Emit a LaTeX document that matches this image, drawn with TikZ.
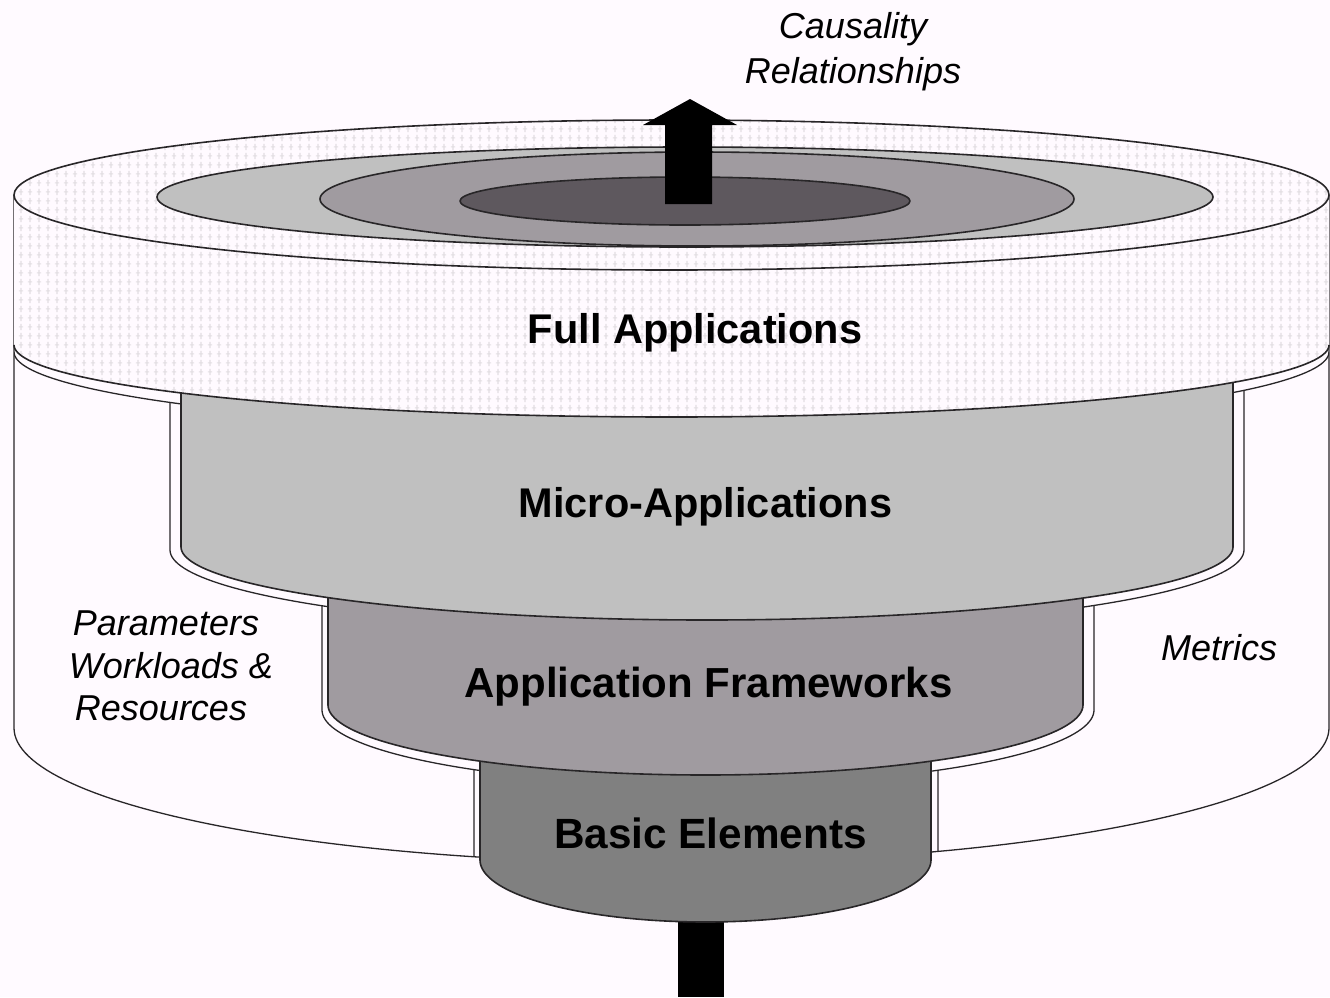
\documentclass[tikz,border=0pt]{standalone}
\usepackage{fontspec}
\setmainfont{Liberation Sans}
\usetikzlibrary{patterns}
\definecolor{bgc}{RGB}{255,250,255}
\definecolor{edge}{RGB}{40,38,40}
\definecolor{microc}{RGB}{192,192,192}
\definecolor{appc}{RGB}{160,155,160}
\definecolor{basicc}{RGB}{128,128,128}
\definecolor{darkc}{RGB}{94,88,94}
\definecolor{dotc}{RGB}{226,222,226}

\pgfdeclarepatternformonly{plusgrid}{\pgfqpoint{0pt}{0pt}}{\pgfqpoint{8.5pt}{9pt}}{\pgfqpoint{8.5pt}{9pt}}{%
  \pgfsetlinewidth{1.1pt}%
  \pgfpathmoveto{\pgfqpoint{4.25pt}{1pt}}\pgfpathlineto{\pgfqpoint{4.25pt}{8pt}}%
  \pgfpathmoveto{\pgfqpoint{2pt}{4.5pt}}\pgfpathlineto{\pgfqpoint{6.5pt}{4.5pt}}%
  \pgfusepath{stroke}}

\tikzset{
  outline/.style={draw=edge, line width=1.6pt, line join=round},
  wall/.style={draw=edge, line width=1.3pt, line join=round},
  boldlabel/.style={anchor=base, text=black, inner sep=0pt},
  sidelabel/.style={anchor=base, text=black, inner sep=0pt, font=\itshape\fontsize{36}{43}\selectfont},
  dotted fill/.style={pattern=plusgrid, pattern color=dotc},
}

\begin{document}
\begin{tikzpicture}[x=1pt,y=-1pt]
\useasboundingbox (0,0) rectangle (1330,997);
\fill[bgc] (0,0) rectangle (1330,997);

% ---- inner wall of the surrounding shell (offset outline), clipped to the shell
\begin{scope}
\clip (14,195) -- (14,728) -- plot[domain=0:180,samples=120,variable=\t] ({671.5-657.5*cos(\t)},{728+135*sin(\t)}) -- (1329,195) -- cycle;
% around Basic Elements
\fill[bgc] (474,705) -- (474,865) -- plot[domain=0:180,samples=90,variable=\t] ({706-232*cos(\t)},{865+66*sin(\t)}) -- (938,705) -- cycle;
\draw[wall] (474,705) -- (474,865) -- plot[domain=0:180,samples=90,variable=\t] ({706-232*cos(\t)},{865+66*sin(\t)}) -- (938,705);
% around Application Frameworks
\fill[bgc] (322,547) -- (322,710) -- plot[domain=0:180,samples=100,variable=\t] ({708-386*cos(\t)},{710+75*sin(\t)}) -- (1094,547) -- cycle;
\draw[wall] (322,547) -- (322,710) -- plot[domain=0:180,samples=100,variable=\t] ({708-386*cos(\t)},{710+75*sin(\t)}) -- (1094,547);
% around Micro-Applications
\fill[bgc] (170,345) -- (170,550) -- plot[domain=0:180,samples=110,variable=\t] ({707-537*cos(\t)},{550+80*sin(\t)}) -- (1244,345) -- cycle;
\draw[wall] (170,345) -- (170,550) -- plot[domain=0:180,samples=110,variable=\t] ({707-537*cos(\t)},{550+80*sin(\t)}) -- (1244,345);
% around Full Applications
\fill[bgc] (14,300) -- (14,352) -- plot[domain=0:180,samples=120,variable=\t] ({671.5-657.5*cos(\t)},{352+78*sin(\t)}) -- (1329,300) -- cycle;
\draw[wall] plot[domain=0:180,samples=120,variable=\t] ({671.5-657.5*cos(\t)},{352+78*sin(\t)});
\end{scope}

% ---- outer shell outline
\draw[wall] (14,195) -- (14,728) -- plot[domain=0:180,samples=120,variable=\t] ({671.5-657.5*cos(\t)},{728+135*sin(\t)}) -- (1329,195);

% ---- stem below
\fill[black] (678,915) rectangle (724,997);

% ---- Basic Elements
\fill[basicc] (480,705) -- (480,860) -- plot[domain=0:180,samples=90,variable=\t] ({705.5-225.5*cos(\t)},{860+62*sin(\t)}) -- (931,705) -- cycle;
\draw[outline] (480,705) -- (480,860) -- plot[domain=0:180,samples=90,variable=\t] ({705.5-225.5*cos(\t)},{860+62*sin(\t)}) -- (931,705);

% ---- Application Frameworks
\fill[appc] (328,547) -- (328,705) -- plot[domain=0:180,samples=100,variable=\t] ({705.5-377.5*cos(\t)},{705+70*sin(\t)}) -- (1083,547) -- cycle;
\draw[outline] (328,547) -- (328,705) -- plot[domain=0:180,samples=100,variable=\t] ({705.5-377.5*cos(\t)},{705+70*sin(\t)}) -- (1083,547);

% ---- Micro-Applications
\fill[microc] (181,345) -- (181,547) -- plot[domain=0:180,samples=110,variable=\t] ({707-526*cos(\t)},{547+73*sin(\t)}) -- (1233,345) -- cycle;
\draw[outline] (181,345) -- (181,547) -- plot[domain=0:180,samples=110,variable=\t] ({707-526*cos(\t)},{547+73*sin(\t)}) -- (1233,345);

% ---- Full Applications body
\fill[bgc] (14,195) -- (14,345) -- plot[domain=0:180,samples=120,variable=\t] ({671.5-657.5*cos(\t)},{345+72*sin(\t)}) -- (1329,195) -- cycle;
\fill[dotted fill] (14,195) -- (14,345) -- plot[domain=0:180,samples=120,variable=\t] ({671.5-657.5*cos(\t)},{345+72*sin(\t)}) -- (1329,195) -- cycle;
\draw[outline] plot[domain=0:180,samples=120,variable=\t] ({671.5-657.5*cos(\t)},{345+72*sin(\t)});

% ---- top face
\fill[bgc] (671.5,195) ellipse[x radius=657.5pt, y radius=75pt];
\fill[dotted fill] (671.5,195) ellipse[x radius=657.5pt, y radius=75pt];
\draw[outline] (671.5,195) ellipse[x radius=657.5pt, y radius=75pt];
\filldraw[fill=microc, outline] (685,197) ellipse[x radius=528pt, y radius=50pt];
\filldraw[fill=appc, outline] (697,199) ellipse[x radius=377pt, y radius=47pt];
\filldraw[fill=darkc, outline] (685,201) ellipse[x radius=225pt, y radius=24pt];

% ---- upward arrow
\fill[black] (665,204) -- (665,125) -- (643,125) -- (690,99) -- (737,125) -- (712,125) -- (712,204) -- cycle;

% ---- labels
\node[sidelabel] (caus) at (853,38) {Causality};
\node[sidelabel] (rel) at (853,83) {Relationships};
\node[boldlabel, font=\bfseries\fontsize{41.5}{48}\selectfont] (full) at (695,343) {Full Applications};
\node[boldlabel, font=\bfseries\fontsize{41.5}{48}\selectfont] (micro) at (705.5,517) {Micro-Applications};
\node[boldlabel, font=\bfseries\fontsize{42}{49}\selectfont] (frame) at (708.5,697) {Application Frameworks};
\node[boldlabel, font=\bfseries\fontsize{42.3}{50}\selectfont] (basic) at (710.5,848) {Basic Elements};
\node[sidelabel] (par) at (166,635) {Parameters};
\node[sidelabel] (work) at (171,678) {Workloads \&};
\node[sidelabel] (res) at (161,720) {Resources};
\node[sidelabel] (metr) at (1219,660) {Metrics};
\end{tikzpicture}
\end{document}
